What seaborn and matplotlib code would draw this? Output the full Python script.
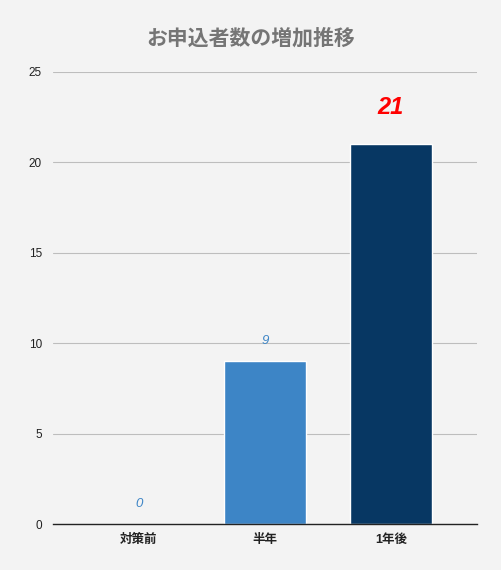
import pandas as pd
import seaborn as sns
import matplotlib.pyplot as plt

categories = ["対策前", "半年", "1年後"]
values = [0, 9, 21]
bar_colors = ["#3d85c6", "#3d85c6", "#073763"]
label_colors = ["#3d85c6", "#3d85c6", "#ff0000"]
y_ticks = [0, 5, 10, 15, 20, 25]

df = pd.DataFrame({"category": categories, "value": values})

sns.set_style("white")
plt.rcParams["font.family"] = ["Liberation Sans", "Noto Sans CJK JP", "DejaVu Sans"]

fig = plt.figure(figsize=(5.02, 5.70), dpi=100, facecolor="#f3f3f3")
ax = fig.add_axes([0.1056, 0.0807, 0.8444, 0.793])
ax.set_facecolor("#f3f3f3")

sns.barplot(data=df, x="category", y="value", hue="category", palette=bar_colors,
            saturation=1, width=0.65, legend=False, ax=ax, zorder=3)

ax.set_ylim(0, 25)
ax.set_xlim(-0.683, 2.683)
ax.set_yticks(y_ticks)
ax.set_yticklabels([str(t) for t in y_ticks], fontsize=8.5, color="#222222")
ax.yaxis.grid(True, color="#bdbdbd", linewidth=0.8, zorder=0)
ax.set_axisbelow(True)
ax.tick_params(axis="both", length=0, pad=8)
ax.tick_params(axis="x", pad=7)
for lab in ax.get_xticklabels():
    lab.set_fontweight("bold")
    lab.set_fontsize(9)
    lab.set_color("#222222")
ax.set_xlabel("")
ax.set_ylabel("")
for s in ["top", "right", "left"]:
    ax.spines[s].set_visible(False)
ax.spines["bottom"].set_color("#222222")
ax.spines["bottom"].set_linewidth(1)
ax.spines["bottom"].set_zorder(4)

# value labels
for i, v in enumerate(values):
    if i == 2:
        ax.annotate(str(v), (i, v), xytext=(0, 18), textcoords="offset points",
                    ha="center", va="bottom", fontsize=17, fontweight="bold",
                    fontstyle="italic", color=label_colors[i])
    else:
        ax.annotate(str(v), (i, v), xytext=(0, 10), textcoords="offset points",
                    ha="center", va="bottom", fontsize=9.5, fontstyle="italic",
                    color=label_colors[i])

fig.text(0.5, 0.933, "お申込者数の増加推移", ha="center", va="center",
         fontsize=15, fontweight="bold", color="#757575",
         family=["Noto Sans CJK JP", "DejaVu Sans"])

fig.savefig("out.png", dpi=100, facecolor=fig.get_facecolor())
